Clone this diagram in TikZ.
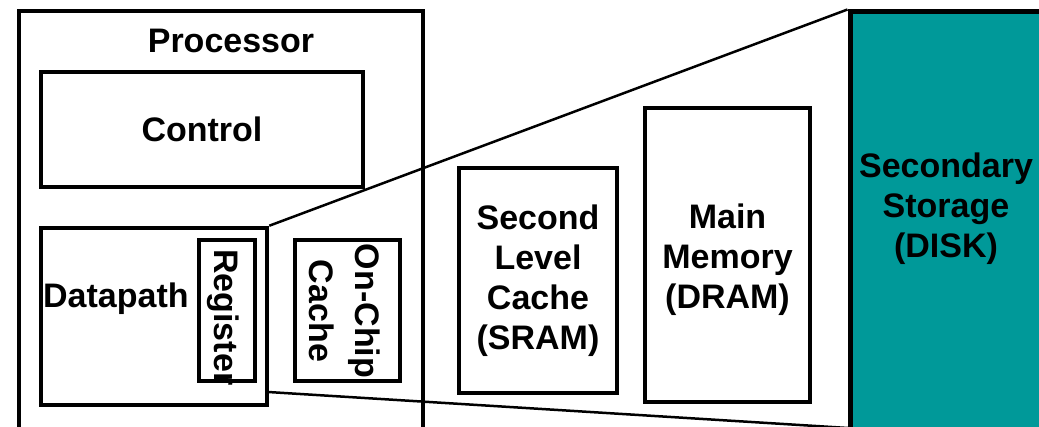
\documentclass[tikz,border=0pt]{standalone}
\usepackage{fontspec}
\setmainfont{Liberation Sans}
\definecolor{disk}{RGB}{0,153,153}

\begin{document}
\begin{tikzpicture}[x=1pt, y=-1pt,
    box/.style={shape=rectangle, draw=black, line width=4.5pt, inner sep=0pt},
    txt/.style={font=\bfseries\fontsize{34}{40}\selectfont, inner sep=0pt, align=center}]
        \useasboundingbox (0,0) rectangle (1039,427);
        \clip (0,0) rectangle (1039,427);
        % processor and what sits in it
        \node[box, minimum width=404pt, minimum height=439pt] (P) at (221,230.5) {};
        \node[txt, anchor=base] (Pt) at (231,53) {Processor};
        \node[box, txt, minimum width=322pt, minimum height=115pt] (C) at (202,129.5) {Control};
        \node[box, minimum width=226pt, minimum height=177pt] (D) at (154,316.5) {};
        \node[txt, anchor=base west] (Dt) at (43,308) {Datapath};
        \node[box, minimum width=56pt, minimum height=141pt] (R) at (227,310.5) {};
        \node[txt, rotate=-90, anchor=base west] (Rt) at (214,249) {Register};
        \node[box, minimum width=105pt, minimum height=141pt] (OC) at (347.5,310.5) {};
        \node[txt, rotate=-90] (OCt) at (345,311) {On-Chip\\[6pt]Cache};
        % outside the processor
        \node[box, txt, minimum width=158pt, minimum height=225pt] (SL) at (538,280.5) {Second\\Level\\Cache\\(SRAM)};
        \node[box, minimum width=165pt, minimum height=294pt] (M) at (727.5,255) {};
        \node[txt] (Mt) at (727.5,260) {Main\\Memory\\(DRAM)};
        \node[box, fill=disk, line width=5pt, minimum width=195pt, minimum height=438pt] (S) at (947.5,231) {};
        \node[txt] (St) at (946,208.5) {Secondary\\Storage\\(DISK)};
        % the two lines that open out
        \coordinate (dp) at (268,392);
        \coordinate (dk) at (848,428);
        \draw[line width=2.5pt] (D.north east) -- (S.north west);
        \draw[line width=2.5pt] (dp) -- (dk);
\end{tikzpicture}
\end{document}
